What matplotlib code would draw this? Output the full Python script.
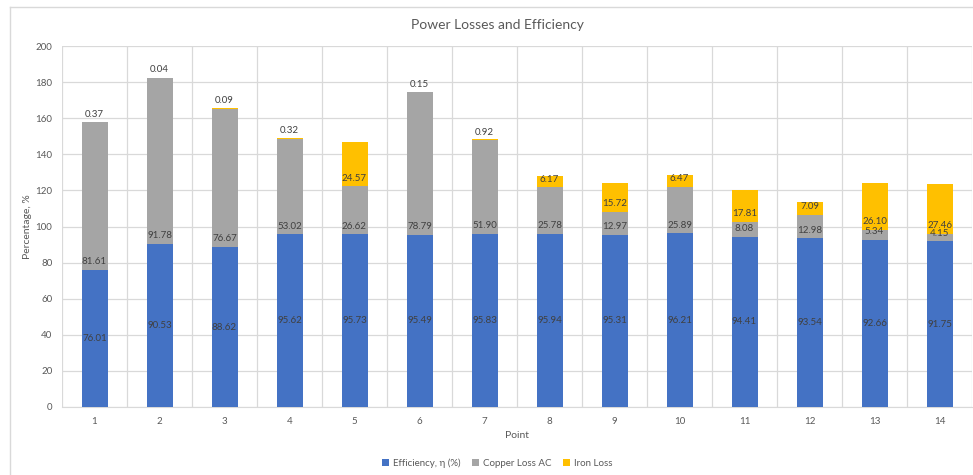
import numpy as np
import matplotlib
matplotlib.use("Agg")
from matplotlib import pyplot as plt
from matplotlib.lines import Line2D

plt.rcParams['font.family'] = ['Lato', 'DejaVu Sans']

points = [str(i) for i in range(1, 15)]
efficiency = [76.01, 90.53, 88.62, 95.62, 95.73, 95.49, 95.83,
              95.94, 95.31, 96.21, 94.41, 93.54, 92.66, 91.75]
copper_loss = [81.61, 91.78, 76.67, 53.02, 26.62, 78.79, 51.90,
               25.78, 12.97, 25.89, 8.08, 12.98, 5.34, 4.15]
iron_loss = [0.37, 0.04, 0.09, 0.32, 24.57, 0.15, 0.92,
             6.17, 15.72, 6.47, 17.81, 7.09, 26.10, 27.46]

blue = '#4472C4'
grey = '#A5A5A5'
gold = '#FFC000'
txt = '#595959'
lbl = '#404040'

fig = plt.figure(figsize=(9.73, 4.75), dpi=100)
ax = fig.add_axes([62 / 973, 1 - 407 / 475, 910 / 973, 361 / 475])

x = np.arange(len(points))
w = 0.4
eff = np.array(efficiency)
cu = np.array(copper_loss)
fe = np.array(iron_loss)

ax.bar(x, eff, w, color=blue, label='Efficiency, η (%)', zorder=3)
ax.bar(x, cu, w, bottom=eff, color=grey, label='Copper Loss AC', zorder=3)
ax.bar(x, fe, w, bottom=eff + cu, color=gold, label='Iron Loss', zorder=3)

# data labels: efficiency centred, losses at inside base
for i in range(len(points)):
    ax.text(x[i], eff[i] / 2, f'{eff[i]:.2f}', ha='center', va='center',
            fontsize=7, color=lbl, zorder=4)
    ax.text(x[i], eff[i] + 2, f'{cu[i]:.2f}', ha='center', va='bottom',
            fontsize=7, color=lbl, zorder=4)
    ax.text(x[i], eff[i] + cu[i] + 2, f'{fe[i]:.2f}', ha='center', va='bottom',
            fontsize=7, color=lbl, zorder=4)

ax.set_xlim(-0.5, len(points) - 0.5)
ax.set_ylim(0, 200)
ax.set_yticks(np.arange(0, 201, 20))
ax.set_xticks(x)
ax.set_xticklabels(points)
ax.set_xticks(np.arange(-0.5, len(points), 1), minor=True)
ax.grid(axis='y', which='major', color='#D9D9D9', lw=0.9, zorder=0)
ax.grid(axis='x', which='minor', color='#D9D9D9', lw=0.9, zorder=0)
ax.grid(axis='x', which='major', visible=False)
ax.tick_params(which='both', length=0, labelsize=7, colors=txt, pad=7)
for s in ['top', 'right', 'left']:
    ax.spines[s].set_visible(False)
ax.spines['bottom'].set_color('#D9D9D9')

ax.set_xlabel('Point', fontsize=7.5, color=txt, labelpad=4)
ax.set_ylabel('Percentage, %', fontsize=7.5, color=txt, labelpad=2)
fig.text(497 / 973, 1 - 25 / 475, 'Power Losses and Efficiency',
         ha='center', va='center', fontsize=10, color=txt)

fig.legend(loc='center', bbox_to_anchor=(497 / 973, 1 - 463 / 475), ncol=3,
           frameon=False, fontsize=7, labelcolor=txt, handlelength=0.7,
           handleheight=0.7, handletextpad=0.4, columnspacing=1.2)

# chart area border
fig.add_artist(Line2D([9.5 / 973, 9.5 / 973], [0, 1 - 7 / 475],
                      transform=fig.transFigure, color='#D9D9D9', lw=1))
fig.add_artist(Line2D([9.5 / 973, 1], [1 - 7 / 475, 1 - 7 / 475],
                      transform=fig.transFigure, color='#D9D9D9', lw=1))

fig.savefig('out.png', dpi=100)
